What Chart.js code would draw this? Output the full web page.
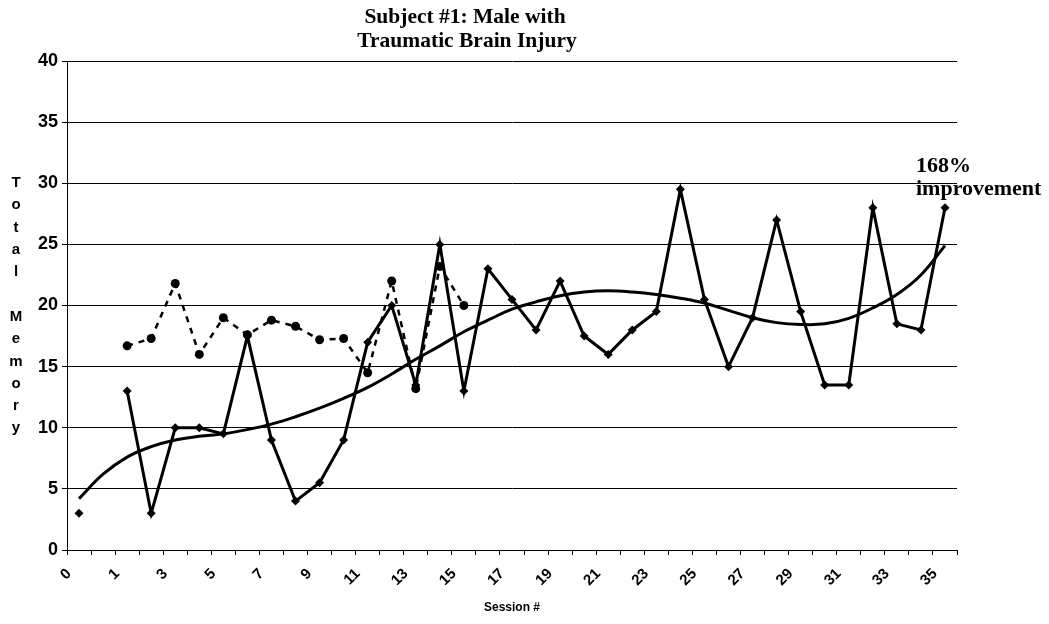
<!DOCTYPE html>
<html>
<head>
<meta charset="utf-8">
<script src="https://cdn.jsdelivr.net/npm/chart.js@4/dist/chart.umd.min.js"></script>
<style>
  html, body { margin: 0; padding: 0; background: #fff; }
  #wrap { width: 1049px; height: 624px; position: relative; }
</style>
</head>
<body>
<div id="wrap"><canvas id="c"></canvas></div>
<script>
// Category labels along the session axis (every other slot carries text)
const sessionLabels = ['0', '', '1', '', '3', '', '5', '', '7', '', '9', '', '11', '', '13', '', '15', '',
  '17', '', '19', '', '21', '', '23', '', '25', '', '27', '', '29', '', '31', '', '33', '', '35'];

// Total memory score per session (solid line, diamonds)
const totalMemory = [3, null, 13, 3, 10, 10, 9.5, 17.5, 9, 4, 5.5, 9, 17, 20, 13.5, 25, 13, 23, 20.5, 18,
  22, 17.5, 16, 18, 19.5, 29.5, 20.5, 15, 19, 27, 19.5, 13.5, 13.5, 28, 18.5, 18, 28];

// Second measure over the early sessions (dashed line, circles)
const earlyMeasure = [null, null, 16.7, 17.3, 21.8, 16, 19, 17.6, 18.8, 18.3, 17.2, 17.3, 14.5, 22, 13.2, 23.2, 20,
  null, null, null, null, null, null, null, null, null, null, null, null, null, null, null, null, null, null, null, null];

// Smoothed trend of total memory
const trendLine = [4.2, 6.2, 7.6, 8.45, 9.0, 9.3, 9.5, 9.85, 10.3, 10.9, 11.6, 12.4, 13.3, 14.4, 15.6, 16.7, 17.85,
  18.8, 19.7, 20.3, 20.8, 21.1, 21.2, 21.1, 20.9, 20.6, 20.2, 19.6, 19.0, 18.6, 18.45, 18.5, 18.95, 19.8, 20.9, 22.5, 24.9];

const yTicks = { min: 0, max: 40, step: 5 };
const titleLines = ['Subject #1: Male with', 'Traumatic Brain Injury'];
const yTitle = 'Total Memory';
const xTitle = 'Session #';
const noteLines = ['168%', 'improvement'];

const SANS = '"Liberation Sans", Arial, sans-serif';
const SERIF = '"Liberation Serif", "Times New Roman", serif';

const textPlugin = {
  id: 'textPlugin',
  afterDraw(chart) {
    const ctx = chart.ctx;
    ctx.save();
    ctx.fillStyle = '#000';

    // heading
    ctx.font = 'bold 21.5px ' + SERIF;
    ctx.textAlign = 'center';
    ctx.textBaseline = 'alphabetic';
    ctx.fillText(titleLines[0], 465, 23);
    ctx.fillText(titleLines[1], 467, 47);

    // stacked vertical axis title
    ctx.font = 'bold 15px ' + SANS;
    ctx.textBaseline = 'middle';
    yTitle.split('').forEach((ch, i) => {
      if (ch !== ' ') ctx.fillText(ch, 16, 183 + i * 22.3);
    });

    // note beside the last session
    const meta = chart.getDatasetMeta(0);
    const last = meta.data[meta.data.length - 1];
    ctx.font = 'bold 22px ' + SERIF;
    ctx.textAlign = 'left';
    ctx.textBaseline = 'alphabetic';
    ctx.fillText(noteLines[0], last.x - 29, last.y - 36);
    ctx.fillText(noteLines[1], last.x - 29, last.y - 13);
    ctx.restore();
  }
};

new Chart(document.getElementById('c'), {
  type: 'line',
  data: {
    labels: sessionLabels,
    datasets: [
      {
        data: totalMemory,
        borderColor: '#000',
        backgroundColor: '#000',
        borderWidth: 3,
        pointStyle: 'rectRot',
        pointRadius: 4.5,
        pointBorderWidth: 0,
        tension: 0,
        spanGaps: false,
        order: 2
      },
      {
        data: earlyMeasure,
        borderColor: '#000',
        backgroundColor: '#000',
        borderWidth: 2.5,
        borderDash: [6, 6],
        pointStyle: 'circle',
        pointRadius: 4.5,
        pointBorderWidth: 0,
        tension: 0,
        spanGaps: false,
        order: 3
      },
      {
        data: trendLine,
        borderColor: '#000',
        borderWidth: 3,
        pointRadius: 0,
        tension: 0.4,
        order: 1
      }
    ]
  },
  options: {
    responsive: true,
    maintainAspectRatio: false,
    animation: false,
    events: [],
    layout: { padding: { top: 61, right: 92, bottom: 0, left: 0 } },
    plugins: { legend: { display: false }, tooltip: { enabled: false }, title: { display: false } },
    scales: {
      x: {
        type: 'category',
        offset: true,
        afterFit(scale) { scale.height = 74; },
        grid: { display: true, drawOnChartArea: false, drawTicks: true, tickLength: 5, offset: true, color: '#000', lineWidth: 1 },
        border: { display: true, color: '#000', width: 1 },
        ticks: {
          autoSkip: false,
          maxRotation: 45,
          minRotation: 45,
          labelOffset: -10,
          padding: 10,
          color: '#000',
          font: { family: SANS, size: 15, weight: 'bold' }
        },
        title: {
          display: true,
          text: xTitle,
          color: '#000',
          font: { family: SANS, size: 12, weight: 'bold' },
          padding: { top: 0, bottom: 9 }
        }
      },
      y: {
        min: yTicks.min,
        max: yTicks.max,
        afterFit(scale) { scale.width = 67; },
        grid: { display: true, drawOnChartArea: true, drawTicks: true, tickLength: 5, color: '#000', lineWidth: 1 },
        border: { display: true, color: '#000', width: 1 },
        ticks: {
          stepSize: yTicks.step,
          padding: 4,
          color: '#000',
          font: { family: SANS, size: 18, weight: 'bold' }
        }
      }
    }
  },
  plugins: [textPlugin]
});
</script>
</body>
</html>
